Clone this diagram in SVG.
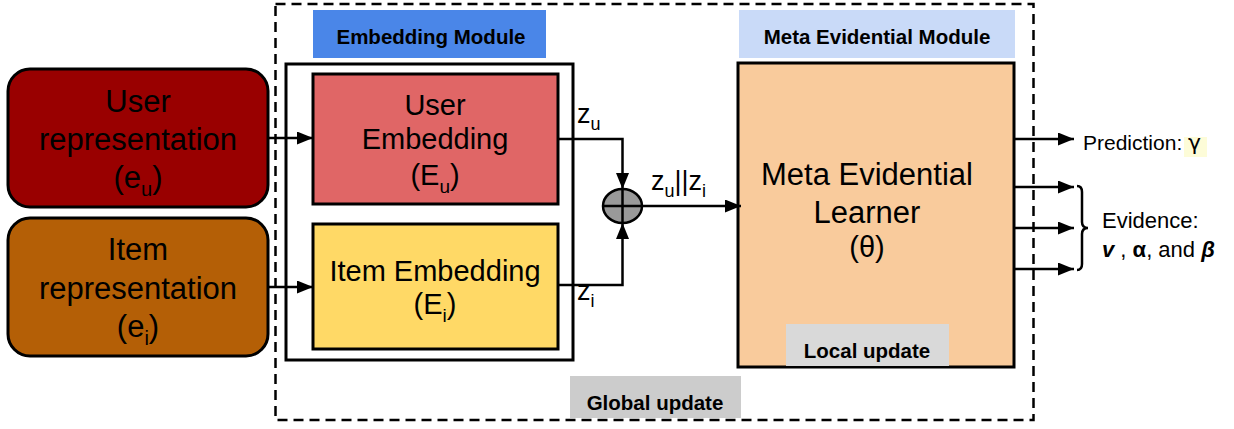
<svg xmlns="http://www.w3.org/2000/svg" width="1234" height="429" viewBox="0 0 1234 429">
  <style>
    .lbl { font-family: "Liberation Sans", Arial, sans-serif; fill: #000; }
    .big { font-size: 31px; text-anchor: middle; }
    .mid { font-size: 29px; text-anchor: middle; }
    .hdr { font-size: 20.5px; font-weight: bold; text-anchor: middle; }
    .wire { fill: none; stroke: #000; stroke-width: 2.5; }
    .box { stroke: #000; stroke-width: 3; }
  </style>
  <defs>
    <marker id="arrow" viewBox="0 0 16 13" refX="16" refY="6.5" markerWidth="16" markerHeight="13" markerUnits="userSpaceOnUse" orient="auto">
      <path d="M0,0 L16,6.5 L0,13 Z" fill="#000"/>
    </marker>
  </defs>

  <rect width="1234" height="429" fill="#fff"/>

  <!-- outer dashed frame -->
  <rect x="275.5" y="4" width="758" height="416" fill="none" stroke="#000" stroke-width="2.5" stroke-dasharray="10,6"/>

  <!-- module headers -->
  <g id="embedding-module-label">
    <rect x="313" y="10" width="233" height="48" fill="#4a86e8"/>
    <text class="lbl hdr" x="431" y="44">Embedding Module</text>
  </g>
  <g id="meta-module-label">
    <rect x="739" y="10" width="276" height="48" fill="#c9daf8"/>
    <text class="lbl hdr" x="877" y="44">Meta Evidential Module</text>
  </g>

  <!-- embedding module container -->
  <rect id="embedding-module" x="286" y="64" width="287" height="296" fill="#fff" class="box"/>

  <g id="user-representation">
    <rect x="8" y="69" width="260" height="138" rx="22" fill="#990000" class="box"/>
    <text class="lbl big" x="138" y="112">User</text>
    <text class="lbl big" x="138" y="150">representation</text>
    <text class="lbl big" x="138" y="188">(e<tspan font-size="20" dy="8">u</tspan><tspan dy="-8">)</tspan></text>
  </g>

  <g id="item-representation">
    <rect x="8" y="218" width="260" height="138" rx="22" fill="#b45f06" class="box"/>
    <text class="lbl big" x="138" y="260">Item</text>
    <text class="lbl big" x="138" y="299">representation</text>
    <text class="lbl big" x="138" y="337">(e<tspan font-size="20" dy="8">i</tspan><tspan dy="-8">)</tspan></text>
  </g>

  <g id="user-embedding">
    <rect x="313" y="74" width="245" height="130" fill="#e06666" class="box"/>
    <text class="lbl mid" x="435" y="115">User</text>
    <text class="lbl mid" x="435" y="149">Embedding</text>
    <text class="lbl mid" x="435" y="185">(E<tspan font-size="19" dy="8">u</tspan><tspan dy="-8">)</tspan></text>
  </g>

  <g id="item-embedding">
    <rect x="313" y="224" width="245" height="125" fill="#ffd966" class="box"/>
    <text class="lbl mid" x="435" y="281">Item Embedding</text>
    <text class="lbl mid" x="435" y="314">(E<tspan font-size="19" dy="8">i</tspan><tspan dy="-8">)</tspan></text>
  </g>

  <g id="concat">
    <ellipse cx="622.5" cy="206" rx="19.5" ry="17" fill="#999999" stroke="#000" stroke-width="2.5"/>
    <path d="M622.5,189 V223 M603,206 H642" stroke="#000" stroke-width="2.5"/>
  </g>

  <g id="meta-learner">
    <rect x="738" y="63" width="276" height="304" fill="#f9cb9c" class="box"/>
    <text class="lbl big" x="867" y="185">Meta Evidential</text>
    <text class="lbl big" x="867" y="223">Learner</text>
    <text class="lbl mid" x="867" y="257">(θ)</text>
  </g>

  <g id="local-update">
    <rect x="786" y="324" width="163" height="42" fill="#d9d9d9"/>
    <text class="lbl hdr" x="867" y="358">Local update</text>
  </g>

  <g id="global-update">
    <rect x="570" y="376" width="171" height="42" fill="#cccccc"/>
    <text class="lbl hdr" x="655" y="410">Global update</text>
  </g>

  <!-- connectors -->
  <g id="connectors">
    <path class="wire" d="M268,138 H313" marker-end="url(#arrow)"/>
    <path class="wire" d="M268,287 H313" marker-end="url(#arrow)"/>
    <path class="wire" d="M558,139 H622.5 V189" marker-end="url(#arrow)"/>
    <path class="wire" d="M558,285 H622.5 V223" marker-end="url(#arrow)"/>
    <path class="wire" d="M642,206 H741" marker-end="url(#arrow)"/>
    <path class="wire" d="M1014,139 H1074" marker-end="url(#arrow)"/>
    <path class="wire" d="M1014,187 H1074" marker-end="url(#arrow)"/>
    <path class="wire" d="M1014,228 H1074" marker-end="url(#arrow)"/>
    <path class="wire" d="M1014,269 H1074" marker-end="url(#arrow)"/>
    <!-- brace grouping the evidence outputs -->
    <path d="M1077,186 Q1082,186 1082,192 V222 Q1082,228 1088,228 Q1082,228 1082,234 V264 Q1082,270 1077,270" fill="none" stroke="#000" stroke-width="2.5"/>
  </g>

  <!-- wire labels -->
  <text class="lbl" font-size="27" x="577" y="123">z<tspan font-size="18" dy="7">u</tspan></text>
  <text class="lbl" font-size="27" x="577" y="300">z<tspan font-size="18" dy="7">i</tspan></text>
  <text class="lbl" font-size="27" x="651" y="190">z<tspan font-size="18" dy="7">u</tspan><tspan dy="-7">||z</tspan><tspan font-size="18" dy="7">i</tspan></text>

  <!-- output labels -->
  <rect x="1184" y="137" width="23" height="20" fill="#fdfcd8"/>
  <text class="lbl" font-size="21" x="1083" y="150">Prediction: <tspan font-family="'DejaVu Sans', sans-serif" font-size="22">γ</tspan></text>
  <text class="lbl" font-size="22" x="1102" y="228">Evidence:</text>
  <text class="lbl" font-size="22" x="1102" y="257"><tspan font-weight="bold" font-style="italic">v</tspan> , <tspan font-weight="bold">α</tspan>, and <tspan font-weight="bold" font-style="italic">β</tspan></text>
</svg>
